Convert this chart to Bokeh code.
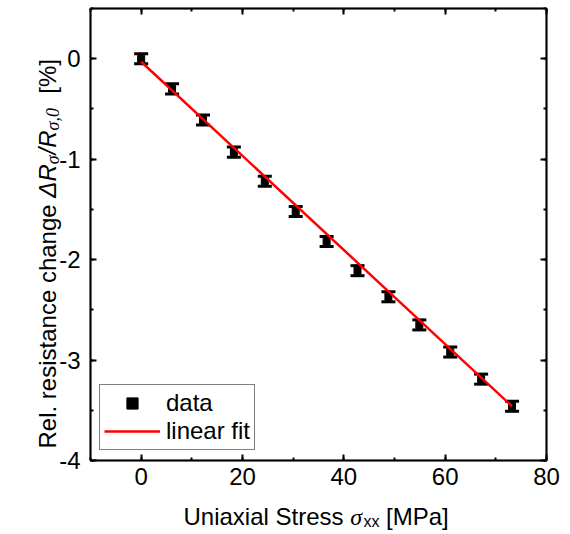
import math
from bokeh.plotting import figure
from bokeh.models import (Range1d, LinearAxis, SingleIntervalTicker, ColumnDataSource,
                          Whisker, TeeHead, Legend, LegendItem, PrintfTickFormatter, Label,
                          BoxAnnotation)
from bokeh.embed import file_html
from bokeh.resources import INLINE

# ---- data ----
stress = [0.0, 6.1, 12.2, 18.3, 24.4, 30.5, 36.6, 42.7, 48.8, 54.9, 61.0, 67.1, 73.2]
dR = [0.00, -0.30, -0.61, -0.93, -1.22, -1.52, -1.82, -2.11, -2.37, -2.65, -2.92, -3.19, -3.46]
dR_err = [0.05, 0.05, 0.05, 0.05, 0.05, 0.05, 0.05, 0.05, 0.05, 0.05, 0.05, 0.05, 0.05]
fit_x = [0.0, 73.2]
fit_y = [-0.03, -3.46]
x_lim = (-10, 80)
y_lim = (-4, 0.5)
x_tick_interval = 20
y_tick_interval = 1

FONT = "Liberation Sans"
SERIF = "Liberation Serif"

# ---- layout (pixels): the whole canvas is the plot frame; the axes box sits inside ----
W, H = 562, 534
BOX_L, BOX_R, BOX_T, BOX_B = 90, 546, 8, 460
sx = (BOX_R - BOX_L) / (x_lim[1] - x_lim[0])
sy = (BOX_B - BOX_T) / (y_lim[1] - y_lim[0])
x_range = Range1d(x_lim[0] - BOX_L / sx, x_lim[1] + (W - BOX_R) / sx)
y_range = Range1d(y_lim[0] - (H - BOX_B) / sy, y_lim[1] + BOX_T / sy)

p = figure(width=W, height=H, output_backend="svg", toolbar_location=None,
           x_range=x_range, y_range=y_range,
           x_axis_location=None, y_axis_location=None, title=None,
           min_border=0, outline_line_color=None,
           background_fill_color="white", border_fill_color="white")
p.grid.visible = False

xt = SingleIntervalTicker(interval=x_tick_interval, num_minor_ticks=2)
yt = SingleIntervalTicker(interval=y_tick_interval, num_minor_ticks=2)
fmt = PrintfTickFormatter(format="%d")
bottom = LinearAxis(ticker=xt, formatter=fmt, fixed_location=y_lim[0], bounds=x_lim)
top = LinearAxis(ticker=xt, formatter=fmt, fixed_location=y_lim[1], bounds=x_lim)
left = LinearAxis(ticker=yt, formatter=fmt, fixed_location=x_lim[0], bounds=y_lim)
right = LinearAxis(ticker=yt, formatter=fmt, fixed_location=x_lim[1], bounds=y_lim)
p.add_layout(bottom, "below")
p.add_layout(top, "above")
p.add_layout(left, "left")
p.add_layout(right, "right")


def style_axis(ax, labels=True, standoff=9):
    ax.axis_line_width = 2
    ax.axis_line_color = "black"
    ax.major_tick_in = 6
    ax.major_tick_out = 0
    ax.minor_tick_in = 3
    ax.minor_tick_out = 0
    ax.major_tick_line_width = 2
    ax.minor_tick_line_width = 2
    ax.major_tick_line_color = "black"
    ax.minor_tick_line_color = "black"
    ax.major_label_text_font = FONT
    ax.axis_label = None
    if labels:
        ax.major_label_text_color = "black"
        ax.major_label_text_font_size = "24px"
        ax.major_label_standoff = standoff
    else:
        # mirror axis: ticks only, labels not drawn
        ax.major_label_text_color = None
        ax.major_label_text_font_size = "1px"
        ax.major_label_standoff = 0


style_axis(bottom, True, 7)
style_axis(left, True, 10)
style_axis(top, False)
style_axis(right, False)

# frame box
p.add_layout(BoxAnnotation(left=x_lim[0], right=x_lim[1], bottom=y_lim[0], top=y_lim[1],
                           fill_color=None, line_color="black", line_width=2))

src = ColumnDataSource(dict(
    x=stress, y=dR,
    upper=[v + e for v, e in zip(dR, dR_err)],
    lower=[v - e for v, e in zip(dR, dR_err)],
))

whisk = Whisker(base="x", upper="upper", lower="lower", source=src,
                line_color="black", line_width=3,
                upper_head=TeeHead(size=14, line_width=3, line_color="black"),
                lower_head=TeeHead(size=14, line_width=3, line_color="black"))
p.add_layout(whisk)
sc = p.scatter("x", "y", source=src, marker="square", size=7,
               fill_color="black", line_color="black")
fit = p.line(fit_x, fit_y, line_color="red", line_width=2.5)

legend = Legend(items=[LegendItem(label="data", renderers=[sc]),
                       LegendItem(label="linear fit", renderers=[fit])],
                location=(99, H - 450), border_line_color="black", border_line_width=1.5,
                background_fill_color="white", background_fill_alpha=1,
                label_text_font=FONT, label_text_font_size="24px", label_text_color="black",
                glyph_width=56, glyph_height=28, label_height=28, label_standoff=6,
                padding=4, spacing=0, margin=0)
p.add_layout(legend)

# ---- composite axis titles (rich text: italics, subscripts) ----
WIDTHS = {' ': 278, 'R': 722, 'e': 556, 'l': 222, '.': 278, 'r': 333, 's': 500, 'i': 222,
          't': 278, 'a': 556, 'n': 556, 'c': 500, 'h': 556, 'g': 556, 'Δ': 668, '/': 278,
          '[': 278, '%': 889, ']': 278, 'U': 722, 'x': 500, 'S': 667, 'M': 833, 'P': 667,
          ',': 250, '0': 500, 'σ': 550}


def tw(s, size):
    return sum(WIDTHS.get(c, 556) for c in s) * size / 1000.0


def add_run(pieces, x0, y0, vertical):
    """x0, y0: page pixels of the start of the baseline."""
    pos = 0.0
    for text, size, font, style, shift in pieces:
        lead = tw(text[:len(text) - len(text.lstrip())], size)
        body = text.strip()
        if vertical:
            px, py, ang = x0 + shift, y0 - pos - lead, math.pi / 2
        else:
            px, py, ang = x0 + pos + lead, y0 + shift, 0.0
        p.add_layout(Label(x=px, y=H - py, x_units="screen", y_units="screen",
                           angle=ang, text=body,
                           text_align="left", text_baseline="alphabetic",
                           text_font=font, text_font_size=f"{size}px",
                           text_font_style=style, text_color="black"))
        pos += tw(text, size)


ylabel_pieces = [
    ("Rel. resistance change ", 24, FONT, "normal", 0),
    ("ΔR", 24, FONT, "italic", 0),
    ("σ", 18, SERIF, "italic", 5),
    ("/R", 24, FONT, "italic", 0),
    ("σ,0", 18, SERIF, "italic", 5),
    ("  [%]", 24, FONT, "normal", 0),
]
xlabel_pieces = [
    ("Uniaxial Stress ", 24, FONT, "normal", 0),
    ("σ", 24, SERIF, "italic", 0),
    ("xx", 16, FONT, "normal", 5),
    (" [MPa]", 24, FONT, "normal", 0),
]
add_run(ylabel_pieces, 47, 448, True)
add_run(xlabel_pieces, 183, 516, False)

open("out.html", "w").write(file_html(p, INLINE))
